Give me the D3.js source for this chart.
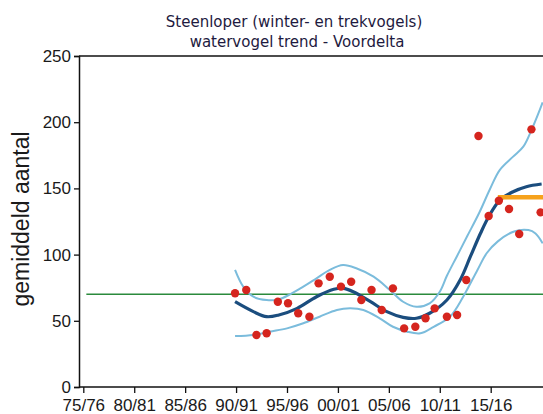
<!DOCTYPE html>
<html>
<head>
<meta charset="utf-8">
<script src="https://cdnjs.cloudflare.com/ajax/libs/d3/7.8.5/d3.min.js"></script>
<style>
  body { margin: 0; background: #fff; }
  svg { display: block; }
  .tick text { font-family: "Liberation Sans", Arial, sans-serif; fill: #1a1a1a; }
</style>
</head>
<body>
<div id="grafico"></div>
<script>
// seizoenen (tick labels) en posities op de jaar-as
var tickYears = [1975, 1980, 1985, 1990, 1995, 2000, 2005, 2010, 2015];
var tickLabels = ["75/76", "80/81", "85/86", "90/91", "95/96", "00/01", "05/06", "10/11", "15/16"];
var yTicks = [0, 50, 100, 150, 200, 250];

var countYears = [1989.9, 1991.0, 1992.0, 1993.0, 1994.1, 1995.1, 1996.1, 1997.2, 1998.1, 1999.2,
                  2000.3, 2001.3, 2002.3, 2003.3, 2004.3, 2005.4, 2006.5, 2007.6, 2008.6, 2009.5,
                  2010.7, 2011.7, 2012.6, 2013.8, 2014.8, 2015.8, 2016.8, 2017.8, 2019.0, 2019.9];
var countValues = [70.8, 73.3, 39.3, 40.6, 64.4, 63.2, 55.7, 53.1, 78.3, 83.3,
                   75.8, 79.5, 65.7, 73.3, 58.2, 74.5, 44.3, 45.5, 51.9, 59.4,
                   53.1, 54.4, 80.8, 189.6, 129.2, 140.7, 134.4, 115.6, 194.6, 131.9];

// trend en betrouwbaarheidsband
var trendYears = [1989.9, 1991.7, 1993.0, 1994.2, 1996.0, 1997.9, 1999.6, 2000.5, 2001.5, 2003.2,
                  2004.8, 2006.4, 2007.7, 2009.0, 2010.7, 2012.0, 2013.0, 2014.0, 2014.8, 2015.9,
                  2017.2, 2018.5, 2020.0];
var trendValues = [64.4, 56.9, 53.1, 54.4, 59.4, 68.2, 73.8, 74.5, 72.0, 64.4,
                   56.9, 52.6, 51.9, 55.7, 65.7, 80.8, 98.4, 116.1, 128.6, 141.2,
                   147.5, 151.3, 153.3];

var upperYears = [1989.9, 1990.7, 1991.7, 1993.0, 1994.2, 1995.3, 1996.6, 1997.9, 1999.2, 2000.5,
                  2001.8, 2003.5, 2005.1, 2006.4, 2007.7, 2009.0, 2010.0, 2010.7, 2011.7, 2012.7,
                  2013.9, 2014.9, 2015.9, 2017.2, 2018.2, 2019.0, 2019.7, 2020.1];
var upperValues = [88.4, 75.8, 68.2, 65.7, 66.2, 70.0, 75.8, 82.1, 88.4, 92.1,
                   89.7, 83.3, 73.3, 64.4, 60.6, 63.2, 72.0, 84.0, 99.0, 114.0,
                   132.0, 149.0, 164.0, 174.0, 181.5, 194.0, 207.0, 215.0];

var lowerYears = [1989.9, 1991.7, 1993.3, 1995.0, 1996.6, 1998.2, 1999.9, 2001.2, 2002.5, 2004.1,
                  2005.4, 2006.8, 2008.1, 2009.4, 2011.0, 2012.3, 2013.7, 2014.6, 2015.7, 2017.3,
                  2018.7, 2019.4, 2020.1];
var lowerValues = [38.5, 39.3, 41.8, 44.3, 48.1, 53.1, 58.2, 59.4, 58.2, 51.9,
                   45.5, 41.8, 40.6, 45.5, 53.1, 68.2, 88.4, 101.0, 110.0, 117.5,
                   118.5, 116.0, 108.5];

// referentieniveau (groen) en gemiddelde laatste seizoenen (oranje)
var referenceLevel = 70;
var referenceStart = 1975.3;
var recentMean = 143.3;
var recentYears = [2015.7, 2020.3];

var width = 543, height = 414;
var margin = {top: 56, right: 0, bottom: 27, left: 79};

var svg = d3.select("#grafico").append("svg")
    .attr("width", width).attr("height", height);

var x = d3.scaleLinear().domain([1975, 2015]).range([83.3, 490.7]);
var y = d3.scaleLinear().domain([0, 250]).range([height - margin.bottom, margin.top]);
var xMax = x.invert(width + 10);

function zipPts(xs, ys) {
    return xs.map(function(d, i) { return [d, ys[i]]; });
}

var line = d3.line()
    .x(function(d) { return x(d[0]); })
    .y(function(d) { return y(d[1]); })
    .curve(d3.curveCatmullRom.alpha(0.5));

svg.append("clipPath").attr("id", "clip")
  .append("rect")
    .attr("x", margin.left).attr("y", margin.top)
    .attr("width", width - margin.left).attr("height", y(0) - margin.top);

var plot = svg.append("g").attr("clip-path", "url(#clip)");

// groene referentielijn
plot.append("line")
    .attr("x1", x(referenceStart)).attr("x2", x(xMax))
    .attr("y1", y(referenceLevel)).attr("y2", y(referenceLevel))
    .attr("stroke", "#2b8a3c").attr("stroke-width", 1.5);

// betrouwbaarheidsband
[zipPts(upperYears, upperValues), zipPts(lowerYears, lowerValues)].forEach(function(pts) {
    plot.append("path").datum(pts)
        .attr("fill", "none")
        .attr("stroke", "#7bbcdc")
        .attr("stroke-width", 2)
        .attr("d", line);
});

// trend
plot.append("path").datum(zipPts(trendYears, trendValues))
    .attr("fill", "none")
    .attr("stroke", "#1b4d7e")
    .attr("stroke-width", 3.2)
    .attr("d", line);

// oranje gemiddelde
plot.append("line")
    .attr("x1", x(recentYears[0])).attr("x2", x(recentYears[1]))
    .attr("y1", y(recentMean)).attr("y2", y(recentMean))
    .attr("stroke", "#f6a21c").attr("stroke-width", 4.5);

// punten
plot.selectAll("circle.pt")
    .data(zipPts(countYears, countValues))
  .enter().append("circle")
    .attr("class", "pt")
    .attr("cx", function(d) { return x(d[0]); })
    .attr("cy", function(d) { return y(d[1]); })
    .attr("r", 4.2)
    .attr("fill", "#d5251e");

// kader boven
svg.append("line")
    .attr("x1", margin.left).attr("x2", width)
    .attr("y1", y(250)).attr("y2", y(250))
    .attr("stroke", "#111").attr("stroke-width", 1.5);

// assen
var yAxis = svg.append("g")
    .attr("transform", "translate(" + margin.left + ",0)")
    .call(d3.axisLeft(y).tickValues(yTicks).tickSize(5).tickPadding(3));
var xAxis = svg.append("g")
    .attr("transform", "translate(0," + y(0) + ")")
    .call(d3.axisBottom(x).tickValues(tickYears).tickSize(6).tickPadding(6)
        .tickFormat(function(d, i) { return tickLabels[i]; }));
xAxis.select(".domain").attr("d", "M" + margin.left + ",0H" + width);

[xAxis, yAxis].forEach(function(ax) {
    ax.select(".domain").attr("stroke", "#111").attr("stroke-width", 1.5);
    ax.selectAll(".tick line").attr("stroke", "#111").attr("stroke-width", 1.3);
    ax.selectAll(".tick text").attr("font-size", "17px");
});

// y-as titel
svg.append("text")
    .attr("transform", "translate(29,219) rotate(-90)")
    .attr("text-anchor", "middle")
    .attr("font-family", "Liberation Sans, Arial, sans-serif")
    .attr("font-size", "23px")
    .attr("fill", "#1a1a1a")
    .text("gemiddeld aantal");

// titel
var title = svg.append("g")
    .attr("font-family", "DejaVu Sans, sans-serif")
    .attr("font-size", "15px")
    .attr("fill", "#1e1a40")
    .attr("text-anchor", "middle");
title.append("text").attr("x", 294).attr("y", 27).text("Steenloper (winter- en trekvogels)");
title.append("text").attr("x", 297).attr("y", 47).text("watervogel trend - Voordelta");
</script>
</body>
</html>
